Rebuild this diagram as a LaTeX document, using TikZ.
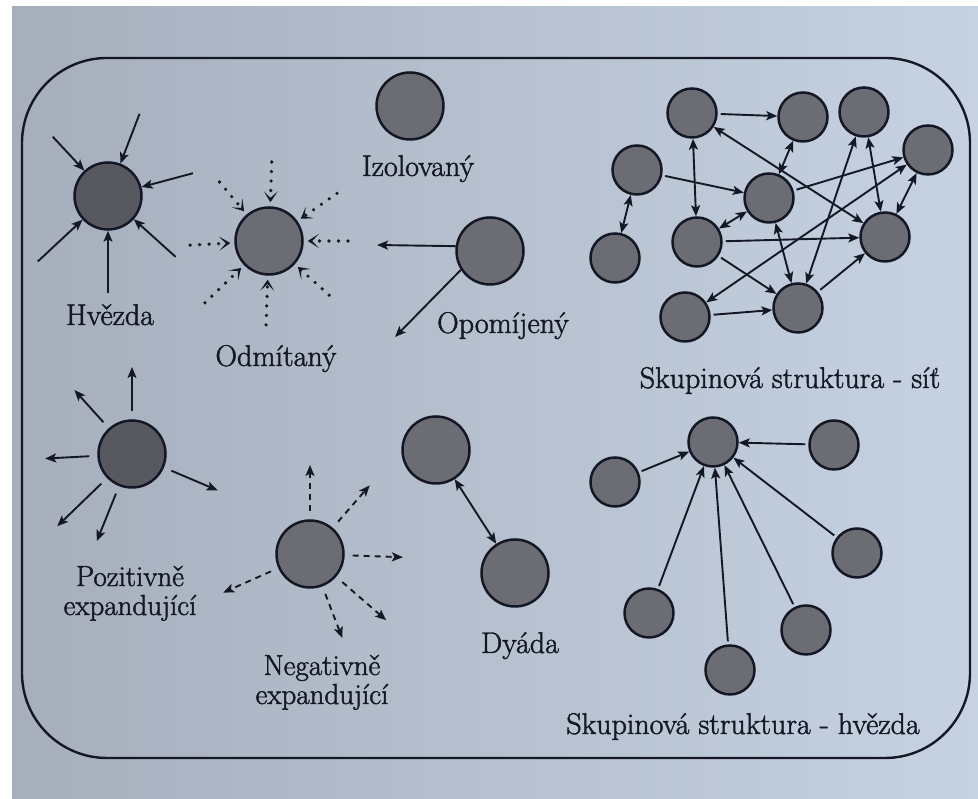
\documentclass[tikz,border=0pt]{standalone}
\usepackage{fontspec}
\usetikzlibrary{arrows.meta,calc}

\newfontfamily\tagfont{Latin Modern Roman}[FakeBold=1.6]

\definecolor{paper}{RGB}{198,210,226}
\definecolor{paperdark}{RGB}{166,174,188}
\definecolor{ink}{RGB}{20,24,36}
\definecolor{discfill}{RGB}{108,108,116}
\definecolor{discdark}{RGB}{88,88,96}

\begin{document}
\begin{tikzpicture}[%
        x = 1pt, y = 1pt,
        > = {Stealth[length=11pt, width=9pt, inset=2.5pt]},
        line width = 1.9pt,
        draw = ink,
        disc/.style = {circle, draw=ink, line width=2.5pt, fill=discfill,
                       minimum size=67pt, inner sep=0pt},
        member/.style = {disc, minimum size=49pt},
        tag/.style = {font=\tagfont\fontsize{30}{30}\selectfont, anchor=base, text=ink},
        twotag/.style = {font=\tagfont\fontsize{29}{29}\selectfont, align=center,
                         anchor=north, inner sep=0pt, text=ink},
        dotarrow/.style = {dash pattern=on 0pt off 9.5pt, line cap=round, line width=3.6pt,
                           -{Stealth[length=11pt, width=14pt, inset=6.5pt]}},
        dasharrow/.style = {dash pattern=on 6pt off 5pt, ->}
    ]

        % Page of the photo and its frame.
        \useasboundingbox (0,0) rectangle (978,799);
        \shade[left color=paperdark, right color=paper] (0,0) rectangle (978,799);
        \fill[white] (0,0) rectangle (12,799);
        \fill[white] (0,793) rectangle (978,799);
        \draw[line width=2.4pt, rounded corners=85pt] (22,41) rectangle (970,741);

        % Hvězda: everybody points at one person.
        \node[disc, fill=discdark] (hv) at (108,603) {};
        \foreach \a/\r in {133/81, 69/88, 15/88, 223/96, 270/97, 318/91}
            \draw[->] ($(hv)+(\a:\r)$) -- (hv.\a);
        \node[tag] (hvlbl) at (110,474) {Hvězda};

        % Odmítaný: dotted rejections.
        \node[disc] (odm) at (269,558) {};
        \foreach \a/\r in {88/79, 35/83, 0/79, 318/81, 268/84, 224/89, 183/79, 130/77}
            \draw[dotarrow, shorten >=4pt] ($(odm)+(\a:\r)$) -- (odm.\a);
        \node[tag] (odmlbl) at (276,433) {Odmítaný};

        % Izolovaný and Opomíjený.
        \node[disc] (izo) at (410,693) {};
        \node[tag] (izolbl) at (418,623) {Izolovaný};

        \node[disc] (opo) at (490,548) {};
        \coordinate (opoleft) at (377,554);
        \coordinate (opodown) at (395,462);
        \draw[->] (opo.172) -- (opoleft);
        \draw[->] (opo.213) -- (opodown);
        \node[tag] (opolbl) at (503,466) {Opomíjený};

        % Pozitivně expandující.
        \node[disc, fill=discdark] (poz) at (132,345) {};
        \foreach \a/\r in {90/87, 132/86, 183/87, 337/93, 224/104, 248/94}
            \draw[->, shorten <=8pt] (poz.\a) -- ($(poz)+(\a:\r)$);
        \node[twotag] (pozlbl) at (130,234) {Pozitivně\\expandující};

        % Negativně expandující.
        \node[disc] (neg) at (310,245) {};
        \foreach \a/\r in {90/89, 49/91, 358/93, 319/101, 291/90, 204/95}
            \draw[dasharrow, shorten <=8pt] (neg.\a) -- ($(neg)+(\a:\r)$);
        \node[twotag] (neglbl) at (322,145) {Negativně\\expandující};

        % Dyáda.
        \node[disc] (dya) at (436,349) {};
        \node[disc] (dyb) at (515,226) {};
        \draw[<->] (dya) -- (dyb);
        \node[tag] (dyalbl) at (520,146) {Dyáda};

        % Skupinová struktura - síť.
        \node[member] (n1)  at (692,686) {};
        \node[member] (n2)  at (803,682) {};
        \node[member] (n3)  at (864,687) {};
        \node[member] (n4)  at (928,649) {};
        \node[member] (n5)  at (637,629) {};
        \node[member] (n6)  at (769,601) {};
        \node[member] (n7)  at (697,557) {};
        \node[member] (n8)  at (885,562) {};
        \node[member] (n9)  at (615,541) {};
        \node[member] (n10) at (685,482) {};
        \node[member] (n11) at (798,491) {};
        \foreach \u/\v in {n1/n2, n5/n6, n6/n4, n7/n8, n7/n11, n10/n11, n11/n8}
            \draw[->, shorten <=3pt] (\u) -- (\v);
        \foreach \u/\v in {n1/n8, n1/n7, n5/n9, n2/n6, n6/n7, n6/n11,
                           n3/n11, n3/n8, n4/n8, n4/n10}
            \draw[<->] (\u) -- (\v);
        \node[tag] (sitlbl) at (790,411) {Skupinová struktura - síť};

        % Skupinová struktura - hvězda.
        \node[member] (c)  at (713,357) {};
        \node[member] (s1) at (615,317) {};
        \node[member] (s2) at (834,354) {};
        \node[member] (s3) at (857,246) {};
        \node[member] (s4) at (649,186) {};
        \node[member] (s5) at (806,169) {};
        \node[member] (s6) at (730,129) {};
        \foreach \s in {s1, s2, s3, s4, s5, s6}
            \draw[->, shorten <=3pt] (\s) -- (c);
        \node[tag] (hvzlbl) at (743,65) {Skupinová struktura - hvězda};
    \end{tikzpicture}
\end{document}
